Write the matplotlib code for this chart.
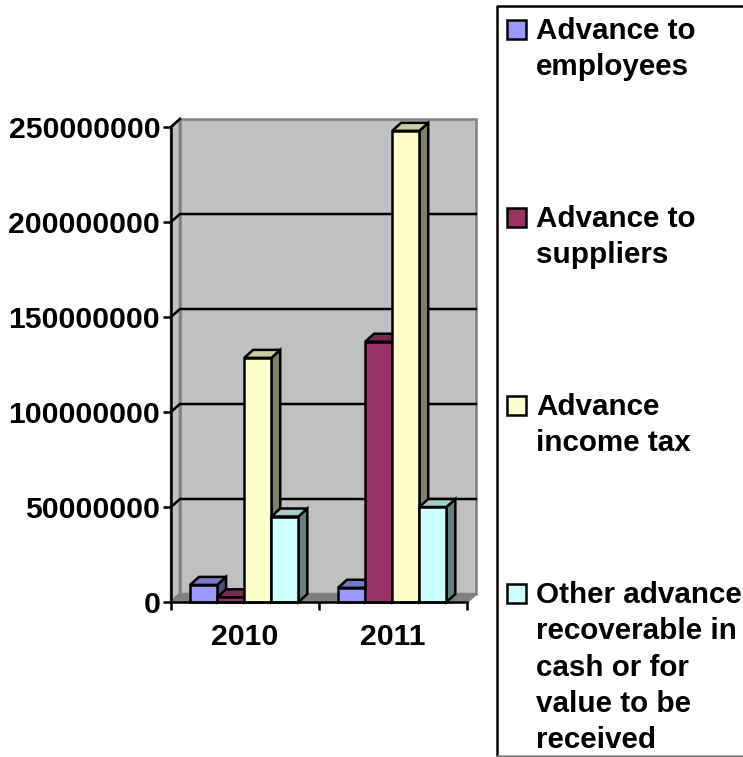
import matplotlib
matplotlib.use('agg')
from matplotlib import pyplot as plt
from matplotlib.colors import to_rgb
from matplotlib.patches import Polygon, Rectangle

plt.rcParams['font.family'] = ['Liberation Sans', 'DejaVu Sans']
plt.rcParams['font.weight'] = 'bold'

years = ['2010', '2011']
series_names = [
    ['Advance to', 'employees'],
    ['Advance to', 'suppliers'],
    ['Advance', 'income tax'],
    ['Other advance', 'recoverable in', 'cash or for', 'value to be', 'received'],
]
advance_employees = [9000000, 7500000]
advance_suppliers = [2500000, 137000000]
advance_income_tax = [128500000, 248000000]
other_advance = [45000000, 50000000]
y_ticks = [0, 50000000, 100000000, 150000000, 200000000, 250000000]
colors = ['#9999ff', '#993366', '#ffffcc', '#ccffff']

W, H = 743, 757
FONT = 21.7
LEGEND_FONT = 21.3
EDGE = 1.8
WALL = '#c0c0c0'
WALL_EDGE = '#808080'

# the 3D look is a fixed shift of the back plane, in data units
DEPTH_X = 0.06
DEPTH_Y = 4200000
BAR_W = 0.183
GAP = 0.129


def shade(color, factor):
    return tuple(c * factor for c in to_rgb(color))


def draw_bar(axes, x, value, color, zorder):
    x2 = x + BAR_W
    front = [(x, 0), (x2, 0), (x2, value), (x, value)]
    top = [(x, value), (x2, value), (x2 + DEPTH_X, value + DEPTH_Y), (x + DEPTH_X, value + DEPTH_Y)]
    side = [(x2, 0), (x2 + DEPTH_X, DEPTH_Y), (x2 + DEPTH_X, value + DEPTH_Y), (x2, value)]
    for points, face in ((side, shade(color, 0.5)), (top, shade(color, 0.8)), (front, color)):
        axes.add_patch(Polygon(points, closed=True, facecolor=face, edgecolor='black',
                               linewidth=EDGE, joinstyle='miter', clip_on=False, zorder=zorder))


fig = plt.figure(figsize=(W / 100, H / 100), dpi=100)
axes = fig.add_axes([171 / W, (H - 602) / H, (467 - 171) / W, (602 - 127) / H])
axes.patch.set_visible(False)
axes.set_xlim(0, len(years))
axes.set_ylim(0, y_ticks[-1])

# walls and floor
top = y_ticks[-1]
n = len(years)
axes.add_patch(Polygon([(DEPTH_X, DEPTH_Y), (n + DEPTH_X, DEPTH_Y), (n + DEPTH_X, top + DEPTH_Y), (DEPTH_X, top + DEPTH_Y)],
                       facecolor=WALL, edgecolor=WALL_EDGE, linewidth=EDGE, clip_on=False, zorder=1))
axes.add_patch(Polygon([(0, 0), (DEPTH_X, DEPTH_Y), (DEPTH_X, top + DEPTH_Y), (0, top)],
                       facecolor=WALL, edgecolor=WALL_EDGE, linewidth=EDGE, clip_on=False, zorder=1))
axes.add_patch(Polygon([(0, 0), (n, 0), (n + DEPTH_X, DEPTH_Y), (DEPTH_X, DEPTH_Y)],
                       facecolor=WALL_EDGE, edgecolor=WALL_EDGE, linewidth=EDGE, clip_on=False, zorder=1))

for tick in y_ticks[1:]:
    axes.plot([0, DEPTH_X, n + DEPTH_X if tick < top else DEPTH_X],
              [tick, tick + DEPTH_Y, tick + DEPTH_Y],
              color='black', linewidth=EDGE, clip_on=False, zorder=2)

all_series = [advance_employees, advance_suppliers, advance_income_tax, other_advance]
for i in range(len(years)):
    for j, values in enumerate(all_series):
        draw_bar(axes, i + GAP + j * BAR_W, values[i], colors[j], 3 + j)

axes.spines['top'].set_visible(False)
axes.spines['right'].set_visible(False)
axes.spines['left'].set_linewidth(EDGE)
axes.spines['bottom'].set_linewidth(EDGE)
axes.spines['left'].set_zorder(8)
axes.spines['bottom'].set_zorder(8)

axes.set_yticks(y_ticks)
axes.set_yticklabels([str(t) for t in y_ticks], fontsize=FONT, fontweight='bold')
axes.set_xticks(range(n + 1))
axes.set_xticklabels([''] * (n + 1))
axes.tick_params(axis='y', length=5.8, width=EDGE, pad=2)
axes.tick_params(axis='x', length=5.8, width=EDGE)
for i, year in enumerate(years):
    axes.annotate(year, xy=(i + 0.5, 0), xycoords='data', xytext=(0, -43), textcoords='offset pixels',
                  ha='center', va='baseline', fontsize=FONT, fontweight='bold')

# legend panel, laid out in pixels
panel = fig.add_axes([0, 0, 1, 1])
panel.set_xlim(0, W)
panel.set_ylim(H, 0)
panel.axis('off')
panel.plot([W, 497, 497], [5.5, 5.5, 756], color='black', linewidth=EDGE, clip_on=False)
panel.plot([497, W], [756, 756], color='#808080', linewidth=EDGE, clip_on=False)

legend_y = [29, 217, 405, 593]
for name, color, y in zip(series_names, colors, legend_y):
    panel.add_patch(Rectangle((507, y - 9), 19, 19, facecolor=color, edgecolor='black', linewidth=EDGE))
    for k, line in enumerate(name):
        panel.text(536, y + 10 + k * 36.3, line, fontsize=LEGEND_FONT, fontweight='bold', ha='left', va='baseline')

fig.savefig('out.png', dpi=100)
